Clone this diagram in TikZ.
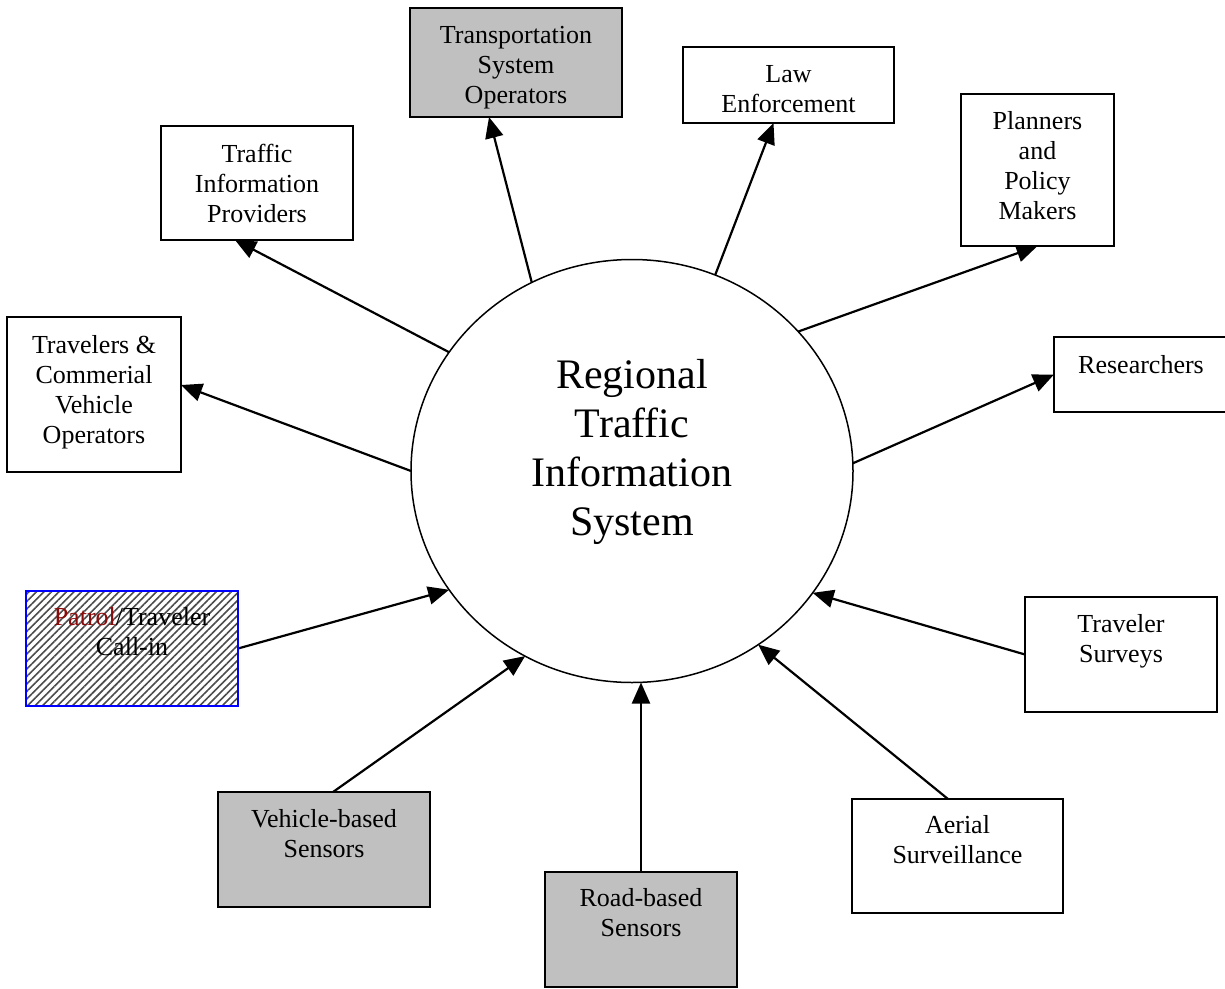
\documentclass[tikz,border=0pt]{standalone}
\usepackage{fontspec}
\setmainfont{Liberation Serif}
\usetikzlibrary{arrows.meta,shapes.geometric,patterns.meta}
\pgfdeclarelayer{background}
\pgfsetlayers{background,main}
\definecolor{boxgray}{RGB}{192,192,192}
\definecolor{patrolred}{RGB}{140,10,10}
\newcommand\boxtxt[4]{\parbox[c][#2pt][t]{#1pt}{\centering\rule{0pt}{#3pt}#4}}
\begin{document}
\begin{tikzpicture}[x=1pt,y=-1pt,
  box/.style={draw, line width=1.8pt, inner sep=0pt, outer sep=0pt, anchor=north west,
    fill=white, font=\fontsize{26}{30}\selectfont},
  graybox/.style={box, fill=boxgray},
  hatchbox/.style={draw=blue, line width=1.8pt, inner sep=0pt, outer sep=0pt, anchor=north west,
    font=\fontsize{26}{30}\selectfont, preaction={fill=white},
    preaction={pattern={Lines[angle=45,distance=5.3pt,line width=1.6pt]}, pattern color=black!70}},
  arr/.style={line width=2.2pt, -{Triangle[length=21pt,width=18pt]}}]
\useasboundingbox (0,0) rectangle (1225,988);

% central system
\node[ellipse, draw, line width=1.5pt, minimum width=442pt, minimum height=423pt,
      inner sep=0pt, outer sep=0pt] (sys) at (632,471) {};
\node[inner sep=0pt, anchor=north, font=\fontsize{42}{49}\selectfont] (systxt) at (632,353)
  {\parbox[t]{300pt}{\centering\rule{0pt}{35pt}Regional\\Traffic\\Information\\System}};

% output boxes
\node[graybox] (tso) at (410,8) {\boxtxt{212}{109}{35}{Transportation\\System\\Operators}};
\node[box] (law) at (683,47) {\boxtxt{211}{76}{35}{Law\\Enforcement}};
\node[box] (tip) at (161,126) {\boxtxt{192}{114}{36}{Traffic\\Information\\Providers}};
\node[box] (plan) at (961,94) {\boxtxt{153}{152}{35}{Planners\\and\\Policy\\Makers}};
\node[box] (res) at (1054,337) {\boxtxt{174}{75}{36}{Researchers}};
\node[box] (trav) at (7,317) {\boxtxt{174}{155}{36}{Travelers \&\\Commerial\\Vehicle\\Operators}};

% input boxes
\node[hatchbox] (pat) at (26,591) {\boxtxt{212}{115}{34}{{\color{patrolred}Patrol}/Traveler\\Call-in}};
\node[box] (ts) at (1025,597) {\boxtxt{192}{115}{35}{Traveler\\Surveys}};
\node[box] (aer) at (852,799) {\boxtxt{211}{114}{34}{Aerial\\Surveillance}};
\node[graybox] (veh) at (218,792) {\boxtxt{212}{115}{35}{Vehicle-based\\Sensors}};
\node[graybox] (road) at (545,872) {\boxtxt{192}{115}{34}{Road-based\\Sensors}};
\coordinate (roadtip) at (641,682.5);

\begin{pgfonlayer}{background}
\draw[arr] (sys.180) -- ([yshift=9.5pt]trav.east);
\draw[arr] (sys.147.9) -- ([xshift=-22pt]tip.south);
\draw[arr] (sys.118.9) -- ([xshift=-27pt]tso.south);
\draw[arr] (sys.67.1) -- ([xshift=-15pt]law.south);
\draw[arr] (sys.40.9) -- (plan.south);
\draw[arr] (sys.2.9) -- (res.west);
\draw[arr] (ts.west) -- (sys.-34.5);
\draw[arr] ([xshift=-9.5pt]aer.north) -- (sys.-54);
\draw[arr] (road.north) -- (roadtip);
\draw[arr] ([xshift=9pt]veh.north) -- (sys.-120.5);
\draw[arr] (pat.east) -- (sys.-147);
\end{pgfonlayer}
\end{tikzpicture}
\end{document}
